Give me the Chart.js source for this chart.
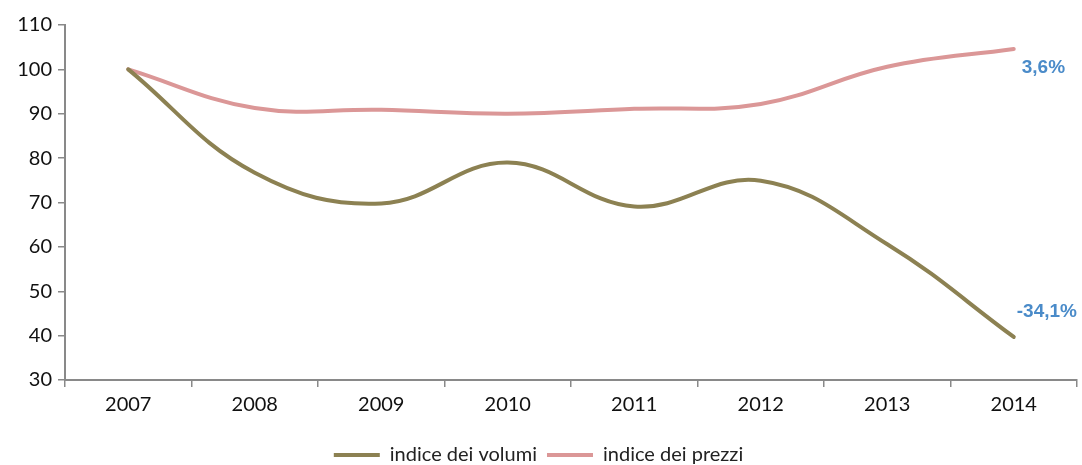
<!DOCTYPE html>
<html>
<head>
<meta charset="utf-8">
<script src="https://cdn.jsdelivr.net/npm/chart.js@4.4.0/dist/chart.umd.min.js"></script>
<style>
html,body{margin:0;padding:0;background:#fff;}
#wrap{width:1082px;height:465px;}
</style>
</head>
<body>
<div id="wrap"><canvas id="c" width="1082" height="465"></canvas></div>
<script>
const years = ["2007","2008","2009","2010","2011","2012","2013","2014"];
const indiceVolumi = [100, 76.7, 69.8, 79.0, 69.1, 74.9, 60.6, 39.7];
const indicePrezzi = [100, 91.3, 90.9, 90.0, 91.1, 92.2, 100.6, 104.6];
const endLabels = ["-34,1%", "3,6%"];
const seriesNames = ["indice dei volumi", "indice dei prezzi"];
const yTicks = [30, 40, 50, 60, 70, 80, 90, 100, 110];

const colVol = "#8C8152";
const colPrz = "#DB9797";
const axisCol = "#898989";
const tickFont = {family: "Lato, 'Open Sans', sans-serif", size: 20};

const endLabelPlugin = {
  id: 'endLabels',
  afterDatasetsDraw(chart) {
    const ctx = chart.ctx;
    ctx.save();
    ctx.font = "bold 19px 'Liberation Sans', Arial, sans-serif";
    ctx.fillStyle = "#4A8BC9";
    ctx.textBaseline = "middle";
    ctx.textAlign = "left";
    const m0 = chart.getDatasetMeta(0);
    const p0 = m0.data[m0.data.length - 1];
    ctx.fillText(endLabels[0], p0.x + 3, p0.y - 25);
    const m1 = chart.getDatasetMeta(1);
    const p1 = m1.data[m1.data.length - 1];
    ctx.fillText(endLabels[1], p1.x + 8, p1.y + 19);
    ctx.restore();
  }
};

new Chart(document.getElementById('c'), {
  type: 'line',
  data: {
    labels: years,
    datasets: [
      {label: seriesNames[0], data: indiceVolumi, borderColor: colVol, backgroundColor: colVol,
       borderWidth: 4, pointRadius: 0, tension: 0.4, borderCapStyle: 'round'},
      {label: seriesNames[1], data: indicePrezzi, borderColor: colPrz, backgroundColor: colPrz,
       borderWidth: 4, pointRadius: 0, tension: 0.4, borderCapStyle: 'round'}
    ]
  },
  options: {
    responsive: false,
    animation: false,
    events: [],
    layout: {padding: {top: 25, right: 5, left: 0, bottom: -10}},
    plugins: {
      tooltip: {enabled: false},
      legend: {
        position: 'bottom',
        labels: {
          font: {family: "Lato, 'Open Sans', sans-serif", size: 20},
          color: "#222",
          boxWidth: 46,
          boxHeight: 4,
          padding: 10,
          generateLabels(chart) {
            return chart.data.datasets.map((d, i) => ({
              text: d.label, fillStyle: d.borderColor, strokeStyle: d.borderColor,
              lineWidth: 0, hidden: false, datasetIndex: i, fontColor: "#222"
            }));
          }
        }
      }
    },
    scales: {
      x: {
        offset: true,
        grid: {offset: true, display: true, drawOnChartArea: false, drawTicks: true, tickLength: 7, color: axisCol, lineWidth: 1.5},
        border: {display: true, color: axisCol, width: 2},
        ticks: {font: tickFont, color: "#111", padding: 6, maxRotation: 0},
        afterFit(s) { s.height = 55; }
      },
      y: {
        min: 30, max: 110,
        afterBuildTicks(s) { s.ticks = yTicks.map(v => ({value: v})); },
        grid: {display: true, drawOnChartArea: false, drawTicks: true, tickLength: 7, color: axisCol, lineWidth: 1.5},
        border: {display: true, color: axisCol, width: 2},
        ticks: {font: tickFont, color: "#111", padding: 6},
        afterFit(s) { s.width = 65; }
      }
    }
  },
  plugins: [endLabelPlugin]
});
</script>
</body>
</html>
